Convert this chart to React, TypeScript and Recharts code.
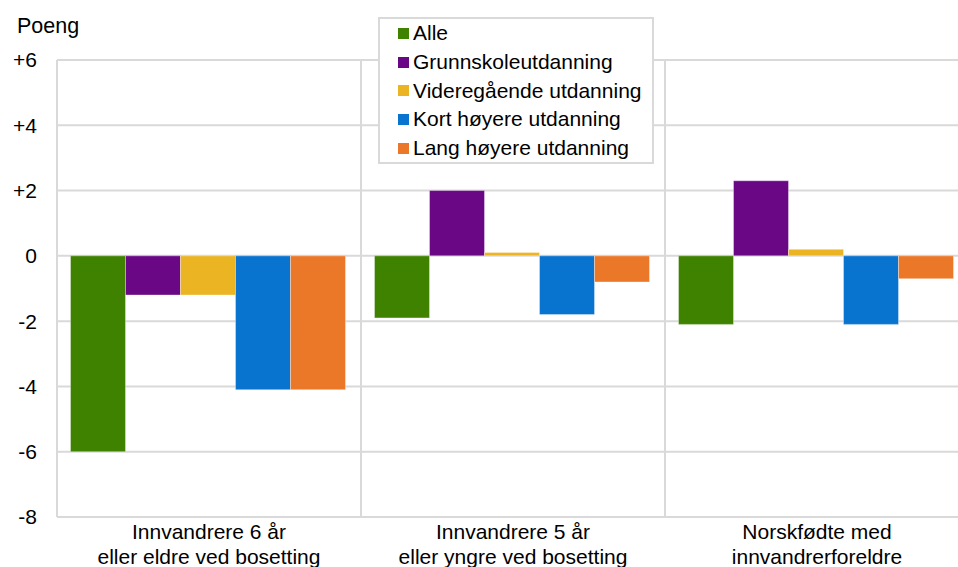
import { BarChart, Bar, XAxis, YAxis, CartesianGrid, Legend } from "recharts";

const categories = [
  ["Innvandrere 6 år", "eller eldre ved bosetting"],
  ["Innvandrere 5 år", "eller yngre ved bosetting"],
  ["Norskfødte med", "innvandrerforeldre"],
];

const alle = [-6.0, -1.9, -2.1];
const grunnskole = [-1.2, 2.0, 2.3];
const videregaende = [-1.2, 0.1, 0.2];
const kortHoyere = [-4.1, -1.8, -2.1];
const langHoyere = [-4.1, -0.8, -0.7];

const yTicks = [-8, -6, -4, -2, 0, 2, 4, 6];

const series = [
  { key: "alle", name: "Alle", color: "#3f8200", values: alle },
  { key: "grunnskole", name: "Grunnskoleutdanning", color: "#6a0785", values: grunnskole },
  { key: "vgs", name: "Videregående utdanning", color: "#ebb423", values: videregaende },
  { key: "kort", name: "Kort høyere utdanning", color: "#0874d0", values: kortHoyere },
  { key: "lang", name: "Lang høyere utdanning", color: "#eb7828", values: langHoyere },
];

const data = categories.map((lines, i) => {
  const row: Record<string, string | number> = { name: lines.join(" ") };
  series.forEach((s) => (row[s.key] = s.values[i]));
  return row;
});

const FONT = '"Liberation Sans", Arial, sans-serif';

function CategoryTick({ x, y, index }: any) {
  const lines = categories[index] ?? [];
  return (
    <text x={x} y={y + 22} textAnchor="middle" fontSize={21} fontFamily={FONT} fill="#000">
      {lines.map((l, i) => (
        <tspan key={i} x={x} dy={i === 0 ? 0 : 25}>
          {l}
        </tspan>
      ))}
    </text>
  );
}

// keep legend in series order (recharts sorts payload by name)
function LegendBox({ payload }: any) {
  const items = [...(payload ?? [])].sort(
    (a: any, b: any) =>
      series.findIndex((s) => s.name === a.value) - series.findIndex((s) => s.name === b.value)
  );
  return (
    <div
      style={{
        border: "2px solid #d9d9d9",
        background: "#fff",
        padding: "0 8px 0 18px",
        fontFamily: FONT,
        fontSize: 21,
        color: "#000",
      }}
    >
      {items.map((p: any) => (
        <div key={p.value} style={{ display: "flex", alignItems: "center", height: 28.7 }}>
          <span style={{ width: 11, height: 11, background: p.color, marginRight: 4, display: "inline-block" }} />
          <span>{p.value}</span>
        </div>
      ))}
    </div>
  );
}

export default function App() {
  return (
    <div style={{ position: "absolute", left: 0, top: 0, width: 958, height: 567, overflow: "hidden", background: "#fff" }}>
      <BarChart
        width={970}
        height={567}
        data={data}
        margin={{ top: 60, right: 1, left: 0, bottom: 0 }}
        barCategoryGap={13.5}
        barGap={0}
      >
        <CartesianGrid
          stroke="#d9d9d9"
          strokeWidth={2}
          verticalCoordinatesGenerator={({ offset }: any) =>
            categories.map((_, i) => offset.left + (i * offset.width) / categories.length).concat(offset.left + offset.width)
          }
        />
        <XAxis
          dataKey="name"
          axisLine={false}
          tickLine={false}
          tickSize={0}
          tickMargin={0}
          height={50}
          interval={0}
          tick={<CategoryTick />}
        />
        <YAxis
          domain={[-8, 6]}
          ticks={yTicks}
          width={57}
          axisLine={false}
          tickLine={false}
          tickSize={0}
          tickMargin={20}
          tickFormatter={(v: number) => (v > 0 ? `+${v}` : `${v}`)}
          tick={{ fontSize: 21, fontFamily: FONT, fill: "#000" }}
          label={{
            content: ({ viewBox }: any) => (
              <text x={viewBox.x + 17} y={viewBox.y - 27} fontSize={21.5} fontFamily={FONT} fill="#000">
                Poeng
              </text>
            ),
          }}
        />
        <Legend
          layout="vertical"
          align="center"
          verticalAlign="middle"
          content={<LegendBox />}
          wrapperStyle={{ position: "absolute", left: 378, top: 17, width: 276 }}
        />
        {series.map((s) => (
          <Bar
            key={s.key}
            dataKey={s.key}
            name={s.name}
            fill={s.color}
            stroke="#ffffff"
            strokeOpacity={0.35}
            strokeWidth={1}
            isAnimationActive={false}
          />
        ))}
      </BarChart>
    </div>
  );
}
